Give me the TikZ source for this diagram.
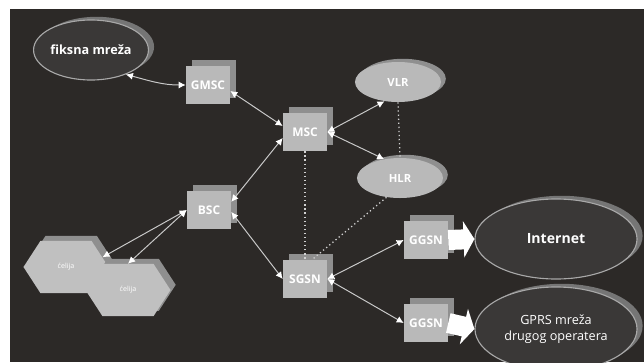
\documentclass[tikz,border=0pt]{standalone}
\usepackage{fontspec}
\setmainfont{Open Sans}
\usetikzlibrary{arrows.meta}
\usetikzlibrary{shapes.geometric,shapes.symbols,shadows}
\definecolor{bgc}{HTML}{2C2927}
\definecolor{boxc}{HTML}{B9B9B9}
\definecolor{shdc}{HTML}{8F8F8F}
\definecolor{linec}{HTML}{C9C9C9}
\definecolor{netc}{HTML}{3A3837}
\definecolor{rimc}{HTML}{A8A8A8}

\begin{document}
\begin{tikzpicture}[x=0.025cm,y=-0.025cm,
    elem/.style={rectangle,fill=boxc,minimum width=1.1cm,minimum height=0.95cm,inner sep=0pt,
      text=white,font=\fontsize{8.5}{10}\selectfont\bfseries,
      copy shadow={shadow xshift=0.14cm,shadow yshift=0.14cm,fill=shdc,draw=none}},
    db/.style={ellipse,fill=boxc,minimum width=2.15cm,minimum height=1cm,inner sep=0pt,
      text=white,font=\footnotesize\bfseries,
      copy shadow={shadow xshift=0.12cm,shadow yshift=0.08cm,fill=shdc,draw=none}},
    netw/.style={ellipse,fill=netc,draw=rimc,line width=0.8pt,inner sep=0pt,text=white,
      copy shadow={shadow xshift=0.14cm,shadow yshift=0.08cm,fill=shdc!70!netc,draw=none}},
    cell/.style={signal,signal to=east and west,signal pointer angle=114,fill=boxc!90!white,
      minimum width=2.125cm,minimum height=1.3cm,inner sep=0pt,text=white,font=\tiny,
      copy shadow={shadow xshift=0.13cm,shadow yshift=0.13cm,fill=shdc,draw=none}},
    link/.style={linec,line width=0.7pt,<->,>={Latex[length=5pt,width=5pt,color=white]}},
    dotlink/.style={linec!85,line width=0.9pt,dotted},
    fat/.style={white,line width=0.5cm,-{Triangle[length=0.27cm,width=0.9cm]}}]

  \useasboundingbox (0,0) rectangle (644,362);
  \fill[white] (0,0) rectangle (644,362);
  \fill[bgc] (10,9) rectangle (644,362);

  \node[netw,minimum width=2.85cm,minimum height=1.5cm,font=\small\bfseries] (fik) at (91,50) {fiksna mreža};
  \node[elem] (gmsc) at (208,85) {GMSC};
  \node[elem] (msc) at (305,132) {MSC};
  \node[db] (vlr) at (398,82) {VLR};
  \node[db] (hlr) at (400,178) {HLR};
  \node[elem] (bsc) at (209,210) {BSC};
  \node[elem] (sgsn) at (305,279) {SGSN};
  \node[elem] (g1) at (426,240) {GGSN};
  \node[elem] (g2) at (426,323) {GGSN};
  \node[netw,minimum width=4.05cm,minimum height=2cm,font=\bfseries] (inet) at (556,239) {Internet};
  \node[netw,minimum width=4.05cm,minimum height=2.1cm,font=\small,align=center] (gprs) at (556,329) {GPRS mreža\\drugog operatera};
  \node[cell] (c1) at (66,267) {ćelija};
  \node[cell] (c2) at (128,290) {ćelija};

  \draw[link] (fik.-35) to[out=-15,in=180] (gmsc.west);
  \draw[link] (gmsc.-15) -- (msc.165);
  \draw[link] (msc.195) -- (bsc.20);
  \draw[link] (msc.east) -- (vlr.235);
  \draw[link] (msc.east) -- (hlr.130);
  \draw[link] (bsc.-5) -- (sgsn.west);
  \draw[link] (bsc.west) -- (c1.15);
  \draw[link] (bsc.west) -- (c2.north);
  \draw[link] (sgsn.east) -- (g1.west);
  \draw[link] (sgsn.east) -- (g2.west);

  \draw[dotlink] (msc.south) -- (sgsn.north);
  \draw[dotlink] (vlr.south) -- (hlr.north);
  \draw[dotlink] (hlr.235) -- (sgsn.70);

  \draw[fat] (g1.east) -- (inet.west);
  \draw[fat] (g2.east) -- (gprs.west);
\end{tikzpicture}
\end{document}
